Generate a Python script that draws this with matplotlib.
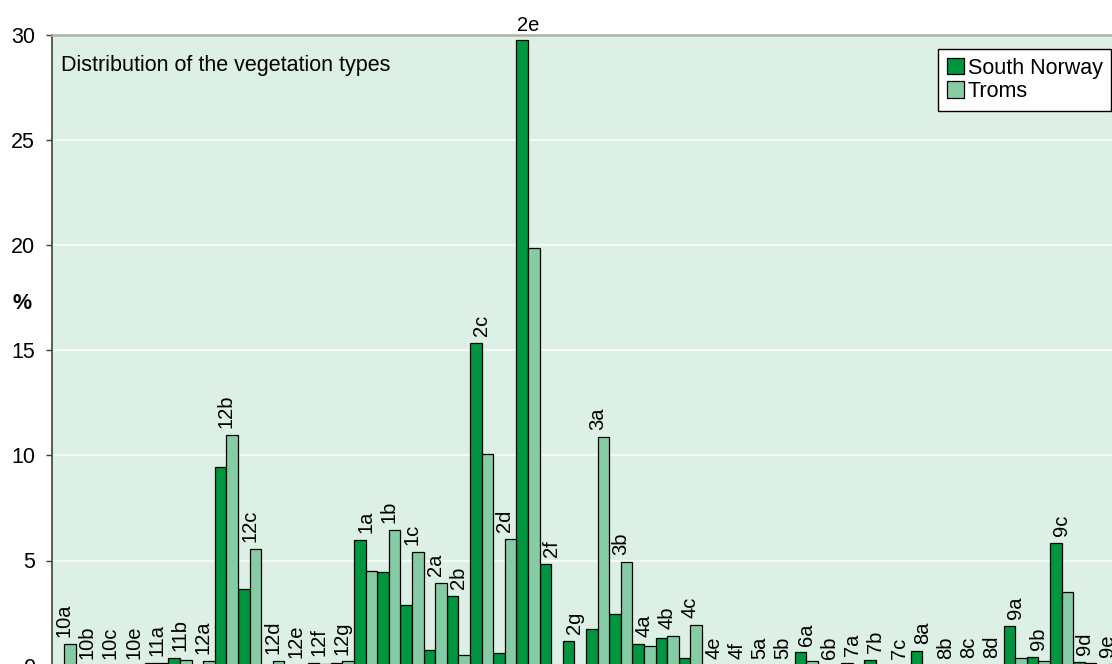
"""
Distribution of the vegetation types, South Norway vs Troms.
Saves out.png.
"""
import matplotlib.pyplot as plt
import numpy as np

categories = ['10a', '10b', '10c', '10e', '11a', '11b', '12a', '12b', '12c', '12d',
              '12e', '12f', '12g', '1a', '1b', '1c', '2a', '2b', '2c', '2d',
              '2e', '2f', '2g', '3a', '3b', '4a', '4b', '4c', '4e', '4f',
              '5a', '5b', '6a', '6b', '7a', '7b', '7c', '8a', '8b', '8c',
              '8d', '9a', '9b', '9c', '9d', '9e']
south_norway = [0, 0, 0, 0, 0.15, 0.35, 0, 9.45, 3.65, 0,
                0.05, 0.12, 0.12, 5.99, 4.45, 2.88, 0.75, 3.33, 15.36, 0.6,
                29.73, 4.85, 1.17, 1.73, 2.44, 1.05, 1.32, 0.35, 0, 0,
                0, 0, 0.63, 0, 0.15, 0.29, 0, 0.68, 0, 0.05,
                0, 1.9, 0.4, 5.85, 0.17, 0.05]
troms = [1.03, 0, 0, 0, 0.15, 0.28, 0.22, 10.98, 5.56, 0.22,
         0.05, 0.1, 0.2, 4.48, 6.43, 5.41, 3.93, 0.49, 10.08, 6.04,
         19.83, 0, 0, 10.87, 4.91, 0.94, 1.41, 1.93, 0, 0,
         0, 0, 0.2, 0, 0, 0, 0, 0, 0, 0,
         0.05, 0.37, 0.2, 3.52, 0.15, 0.1]

DARK = '#00963f'
LIGHT = '#85cca4'
BG = '#ddf0e5'
FS_LAB = 14.5
FS = 15.5

plt.rcParams['font.family'] = ['Liberation Sans', 'DejaVu Sans']

W, H = 1112, 664
fig = plt.figure(figsize=(W / 100, H / 100), dpi=100)
# plot area runs off the bottom and right edge of the picture
ax = fig.add_axes([52.4 / W, (H - 665.7) / H, 1090.4 / W, (665.7 - 34.5) / H])
ax.set_facecolor(BG)

x = np.arange(len(categories))
ax.bar(x - 0.25, south_norway, width=0.5, color=DARK, edgecolor='black',
       linewidth=0.9, label='South Norway', zorder=3)
ax.bar(x + 0.25, troms, width=0.5, color=LIGHT, edgecolor='black',
       linewidth=0.9, label='Troms', zorder=3)

for i, lab in enumerate(categories):
    top = max(south_norway[i], troms[i])
    if lab == '2e':
        ax.annotate(lab, (i, top), xytext=(0, 4), textcoords='offset points',
                    ha='center', va='bottom', fontsize=FS_LAB, annotation_clip=False)
    else:
        ax.annotate(lab, (i, top), xytext=(0, 5), textcoords='offset points',
                    rotation=90, ha='center', va='bottom', fontsize=FS_LAB,
                    annotation_clip=False)

ax.set_xlim(-0.5, 46.5)
ax.set_ylim(0, 30)
ax.set_xticks([])
ax.set_yticks(range(0, 31, 5))
ax.tick_params(axis='y', direction='out', length=4.5, width=1, color='#404040',
               labelsize=FS, pad=8)
ax.yaxis.grid(True, color='white', linewidth=1.1)
ax.set_axisbelow(True)

ax.spines['left'].set_color('#404040')
ax.spines['left'].set_linewidth(1.2)
ax.spines['top'].set_color('#aeb29e')
ax.spines['top'].set_linewidth(1.8)
ax.spines['right'].set_visible(False)
ax.spines['bottom'].set_visible(False)

fig.text(22 / W, 1 - 304 / H, '%', fontsize=FS, fontweight='bold',
         ha='center', va='center')
fig.text(61 / W, 1 - 66 / H, 'Distribution of the vegetation types',
         fontsize=FS, ha='left', va='center')

leg = ax.legend(loc='upper right', bbox_to_anchor=(1111 / W, 1 - 49 / H),
                bbox_transform=fig.transFigure, fontsize=FS, frameon=True,
                fancybox=False, framealpha=1, edgecolor='black',
                handlelength=0.8, handleheight=0.8, handletextpad=0.15,
                borderpad=0.4, labelspacing=0.12, borderaxespad=0)
leg.get_frame().set_linewidth(1)

fig.savefig('out.png', dpi=100)
plt.close(fig)
